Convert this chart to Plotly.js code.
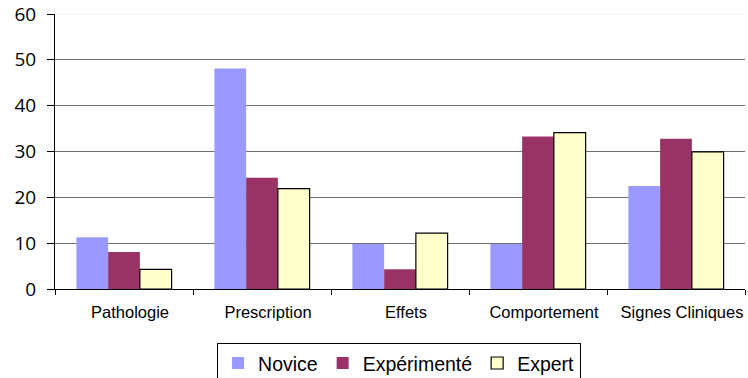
<!DOCTYPE html>
<html>
<head>
<meta charset="utf-8">
<script src="https://cdn.plot.ly/plotly-3.0.1.min.js"></script>
<style>html,body{margin:0;padding:0;background:#fff;}#chart{width:748px;height:378px;}</style>
</head>
<body>
<div id="chart"></div>
<script>
const categories = ["Pathologie", "Prescription", "Effets", "Comportement", "Signes Cliniques"];
const novice = [11.3, 48.1, 9.8, 9.8, 22.5];
const experimente = [8.1, 24.3, 4.3, 33.3, 32.8];
const expert = [4.3, 21.9, 12.2, 34.1, 29.9];
const yTicks = [0, 10, 20, 30, 40, 50, 60];

const traces = [
  {type: "bar", name: "Novice", x: categories, y: novice,
   marker: {color: "#9999FF", line: {width: 0}}},
  {type: "bar", name: "Expérimenté", x: categories, y: experimente,
   marker: {color: "#993366", line: {width: 0}}},
  {type: "bar", name: "Expert", x: categories, y: expert,
   marker: {color: "#FFFFCC", line: {color: "#000000", width: 1.2}}}
];

const layout = {
  width: 748, height: 378,
  margin: {l: 55, r: 3, t: 14, b: 89, pad: 0},
  paper_bgcolor: "#ffffff", plot_bgcolor: "#ffffff",
  barmode: "group", bargap: 0.31, bargroupgap: 0,
  showlegend: true,
  font: {family: "Liberation Sans, Arial, sans-serif", color: "#000"},
  xaxis: {
    type: "category", tickson: "boundaries", ticks: "outside", ticklen: 5,
    tickcolor: "#000", showline: true, linecolor: "#000", linewidth: 1,
    showgrid: false, tickfont: {size: 16.5, color: "#000"}, fixedrange: true,
    ticklabelstandoff: 8, ticklabelshift: 6,
    automargin: false
  },
  yaxis: {
    range: [0, 60], tickvals: yTicks, ticks: "outside", ticklen: 7,
    tickcolor: "#000", showline: true, linecolor: "#000", linewidth: 1,
    showgrid: true, gridcolor: "#6e6e6e", gridwidth: 1, zeroline: false,
    tickfont: {size: 19, color: "#000", family: "Open Sans, DejaVu Sans, sans-serif"}, fixedrange: true,
    ticklabelstandoff: 7,
    automargin: false
  },
  shapes: [
    {type: "line", xref: "paper", yref: "y", x0: 0, x1: 1, y0: 60, y1: 60,
     line: {color: "#e6e6e6", width: 1}}
  ],
  legend: {
    orientation: "h", xref: "container", yref: "container",
    x: 0.5335, xanchor: "center", y: 0.093, yanchor: "top",
    bordercolor: "#000", borderwidth: 1, bgcolor: "#fff",
    font: {size: 19.5, color: "#000"}, itemwidth: 30, tracegroupgap: 0
  }
};

Plotly.newPlot("chart", traces, layout, {displayModeBar: false, staticPlot: true});
</script>
</body>
</html>
